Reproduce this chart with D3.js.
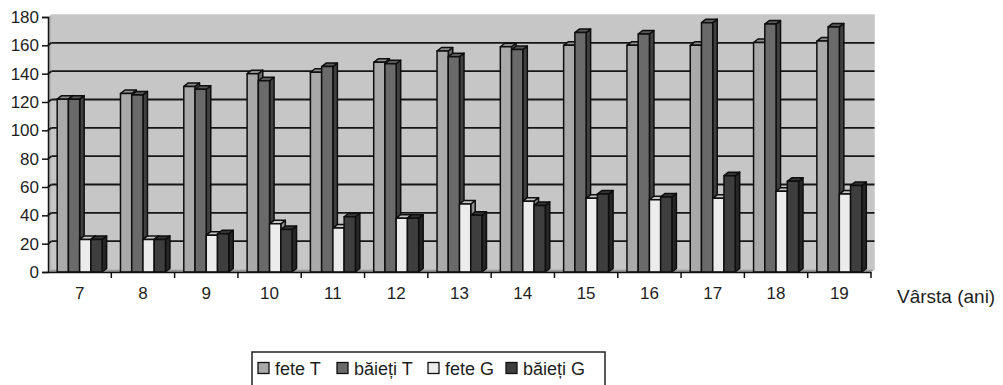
<!DOCTYPE html>
<html>
<head>
<meta charset="utf-8">
<script src="https://cdn.jsdelivr.net/npm/d3@7/dist/d3.min.js"></script>
<style>
  html, body { margin: 0; padding: 0; background: #fff; }
  svg { display: block; font-family: "Liberation Sans", Arial, sans-serif; }
</style>
</head>
<body>
<svg id="chart" width="1003" height="385"></svg>
<script>
// Age groups (years)
const categories = ["7", "8", "9", "10", "11", "12", "13", "14", "15", "16", "17", "18", "19"];
const seriesNames = ["fete T", "băieți T", "fete G", "băieți G"];
const feteT   = [122, 126, 131, 140, 141, 148, 156, 159, 160, 160, 160, 162, 163];
const baietiT = [122, 125, 129, 135, 145, 147, 152, 157, 169, 168, 176, 175, 173];
const feteG   = [23, 23, 26, 34, 31, 38, 48, 50, 52, 51, 52, 57, 55];
const baietiG = [23, 23, 27, 30, 39, 38, 40, 47, 55, 53, 68, 64, 61];
const yTicks = [0, 20, 40, 60, 80, 100, 120, 140, 160, 180];
const xTitle = "Vârsta (ani)";

const seriesValues = [feteT, baietiT, feteG, baietiG];
const colors = ["#a9a9a9", "#6a6a6a", "#ececec", "#3e3e3e"];

const svg = d3.select("#chart");
const textColor = "#1e1e1e";

const y = d3.scaleLinear().domain([0, 180]).range([272, 17]);
const x0 = d3.scaleBand().domain(categories).range([48, 871]);
const bw = x0.bandwidth();
const x1 = d3.scaleBand().domain(seriesNames).range([0.145 * bw, 0.855 * bw]);

// 3D offsets
const WDX = 3.5, WDY = -2.5;   // back wall
const BDX = 4.5, BDY = -3.5;   // bar depth

const x0L = 48, x0R = 871;
const y0 = y(0), yTop = y(180);

// back wall
svg.append("rect")
  .attr("x", x0L + WDX).attr("y", yTop + WDY)
  .attr("width", x0R - x0L).attr("height", y0 - yTop)
  .attr("fill", "#c6c6c6").attr("stroke", "#d6d6d6").attr("stroke-width", 1);

// side wall
svg.append("polygon")
  .attr("points", [[x0L, yTop], [x0L + WDX, yTop + WDY], [x0L + WDX, y0 + WDY], [x0L, y0]].join(" "))
  .attr("fill", "#b3b3b3");

// floor
svg.append("polygon")
  .attr("points", [[x0L, y0], [x0L + WDX, y0 + WDY], [x0R + WDX, y0 + WDY], [x0R, y0]].join(" "))
  .attr("fill", "#9a9a9a");

// gridlines on the back wall
const grid = svg.append("g").attr("stroke", "#161616").attr("stroke-width", 1.9);
yTicks.filter(t => t > 0 && t < 180).forEach(t => {
  grid.append("line")
    .attr("x1", x0L + WDX).attr("x2", x0R + WDX)
    .attr("y1", y(t) + WDY).attr("y2", y(t) + WDY);
  grid.append("line")
    .attr("x1", x0L).attr("x2", x0L + WDX)
    .attr("y1", y(t)).attr("y2", y(t) + WDY);
});

// bars with depth
const bars = svg.append("g").attr("stroke", "#0e0e0e").attr("stroke-width", 1.5).attr("stroke-linejoin", "round");
categories.forEach((cat, i) => {
  seriesNames.forEach((s, j) => {
    const v = seriesValues[j][i];
    const x = x0(cat) + x1(s);
    const w = x1.bandwidth();
    const top = y(v);
    const c = d3.color(colors[j]);
    bars.append("polygon")
      .attr("points", [[x + w, top], [x + w + BDX, top + BDY], [x + w + BDX, y0 + BDY], [x + w, y0]].join(" "))
      .attr("fill", c.darker(1.4));
    bars.append("polygon")
      .attr("points", [[x, top], [x + BDX, top + BDY], [x + w + BDX, top + BDY], [x + w, top]].join(" "))
      .attr("fill", c.darker(0.5));
    bars.append("rect")
      .attr("x", x).attr("y", top)
      .attr("width", w).attr("height", y0 - top)
      .attr("fill", colors[j]);
  });
});

// value axis
const yAxis = svg.append("g")
  .attr("transform", `translate(${x0L},0)`)
  .call(d3.axisLeft(y).tickValues(yTicks).tickSize(6).tickSizeOuter(6).tickPadding(3));
yAxis.select(".domain").attr("stroke", "#111").attr("stroke-width", 1.5);
yAxis.selectAll(".tick line").attr("stroke", "#111").attr("stroke-width", 1.5);
yAxis.selectAll(".tick text").attr("font-size", 17).attr("fill", textColor)
  .attr("font-family", "Liberation Sans, Arial, sans-serif");

// category axis
const xAxis = svg.append("g")
  .attr("transform", `translate(0,${y0})`)
  .call(d3.axisBottom(x0).tickSize(0).tickPadding(14.5).tickSizeOuter(0));
xAxis.select(".domain").attr("stroke", "#111").attr("stroke-width", 1.5);
xAxis.selectAll(".tick text").attr("font-size", 17).attr("fill", textColor)
  .attr("font-family", "Liberation Sans, Arial, sans-serif");
const boundaries = categories.map(c => x0(c)).concat([x0R]);
xAxis.selectAll(".bound").data(boundaries.slice(1)).join("line")
  .attr("class", "bound")
  .attr("x1", d => d).attr("x2", d => d)
  .attr("y1", 0).attr("y2", 6)
  .attr("stroke", "#111").attr("stroke-width", 1.5);

// axis title
svg.append("text")
  .attr("x", 897).attr("y", 303)
  .attr("font-size", 19).attr("fill", textColor)
  .text(xTitle);

// legend
const legend = svg.append("g");
legend.append("rect")
  .attr("x", 252).attr("y", 352).attr("width", 353).attr("height", 45)
  .attr("fill", "#fff").attr("stroke", "#222").attr("stroke-width", 1.5);
const legendX = [258, 337, 428, 506];
seriesNames.forEach((s, j) => {
  legend.append("rect")
    .attr("x", legendX[j]).attr("y", 362.5)
    .attr("width", 11).attr("height", 11)
    .attr("fill", colors[j]).attr("stroke", "#111").attr("stroke-width", 1.3);
  legend.append("text")
    .attr("x", legendX[j] + 17).attr("y", 375)
    .attr("font-size", 18).attr("fill", textColor)
    .text(s);
});
</script>
</body>
</html>
